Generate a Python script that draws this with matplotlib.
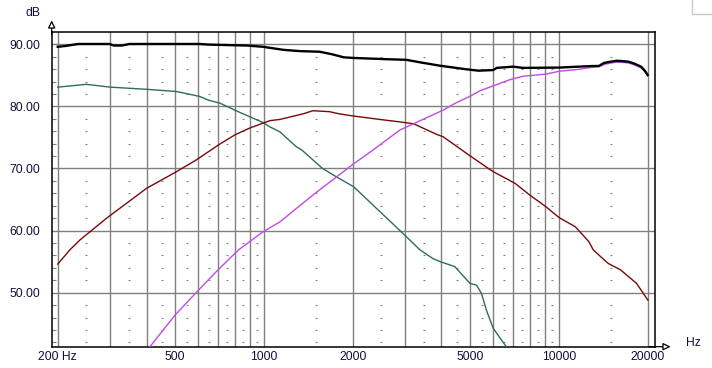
import numpy as np
import matplotlib.pyplot as plt
from matplotlib.patches import Rectangle

# readings off the measurement (Hz, dB)
sum_f = [200, 210, 235, 300, 310, 330, 350, 500, 606, 650, 874, 993, 1166, 1326, 1546,
         1700, 1866, 2009, 2605, 3038, 3381, 3955, 4812, 5336, 5985, 6160, 7000, 7551,
         10012, 12960, 13660, 14230, 15000, 15700, 16300, 17200, 18000, 19000, 19600, 20000]
sum_db = [89.6, 89.7, 90.05, 90.05, 89.8, 89.8, 90.05, 90.05, 90.05, 89.95, 89.8, 89.6, 89.1, 88.9, 88.8,
          88.4, 87.9, 87.8, 87.6, 87.5, 87.1, 86.55, 86.0, 85.75, 85.85, 86.2, 86.4, 86.2,
          86.25, 86.5, 86.5, 87.0, 87.2, 87.35, 87.3, 87.2, 86.9, 86.4, 85.7, 85.05]

woofer_f = [200, 250, 301, 400, 505, 606, 649, 711, 797, 818, 993, 1048, 1133, 1288, 1343,
            1581, 1783, 2009, 2063, 2893, 3381, 3740, 3955, 4437, 4996, 5260, 5465, 5680,
            5985, 6630, 6800]
woofer_db = [83.1, 83.55, 83.1, 82.75, 82.4, 81.6, 81.0, 80.5, 79.4, 79.15, 77.4, 76.7, 75.9, 73.5, 73.0,
             70.0, 68.5, 67.1, 66.6, 60.0, 56.9, 55.5, 55.0, 54.2, 51.5, 51.2, 49.9, 47.2,
             44.3, 41.3, 40.5]

mid_f = [200, 220, 238, 293, 400, 506, 591, 702, 797, 894, 993, 1048, 1133, 1358, 1466,
         1668, 1801, 2009, 2468, 2893, 3218, 3850, 4055, 4944, 5769, 5985, 7107, 7982,
         9038, 10012, 11380, 12650, 13080, 14230, 14716, 16160, 18340, 20040]
mid_db = [54.6, 56.9, 58.5, 62.0, 66.8, 69.5, 71.4, 73.8, 75.4, 76.5, 77.3, 77.7, 77.9, 78.8, 79.3,
          79.15, 78.8, 78.45, 77.9, 77.5, 77.2, 75.5, 75.1, 72.2, 70.0, 69.5, 67.6, 65.7,
          63.85, 62.1, 60.6, 58.2, 56.9, 55.3, 54.7, 53.7, 51.5, 48.8]

tweeter_f = [395, 411, 500, 600, 700, 821, 993, 1133, 1491, 2009, 2347, 2893, 4055, 4492, 4986,
             5396, 5985, 6826, 7551, 9038, 10012, 11700, 12960, 13660, 14370, 15530, 16300,
             17200, 18000, 19000, 19600, 20000]
tweeter_db = [40.5, 41.3, 46.4, 50.4, 53.7, 56.9, 59.8, 61.4, 66.0, 70.7, 73.0, 76.2, 79.4, 80.6, 81.6,
              82.5, 83.3, 84.3, 84.85, 85.2, 85.65, 85.97, 86.3, 86.4, 86.8, 87.1, 87.1,
              87.0, 86.7, 86.2, 85.6, 84.95]

grid_f = [200, 300, 400, 500, 600, 700, 800, 900, 1000, 2000, 3000, 4000, 5000,
          6000, 7000, 8000, 9000, 10000, 20000]
dash_f = [250, 350, 450, 550, 650, 750, 850, 950, 1500, 2500, 3500, 4500, 5500,
          6500, 7500, 8500, 9500, 15000]
grid_db = [50, 60, 70, 80, 90]
dash_db = [v for v in range(42, 92, 2) if v % 10]
xtick_f = [200, 500, 1000, 2000, 5000, 10000, 20000]
xtick_labels = ['200 Hz', '500', '1000', '2000', '5000', '10000', '20000']

plt.rcParams['font.family'] = ['Liberation Sans', 'DejaVu Sans']
label_col = '#10103c'

fig = plt.figure(figsize=(7.12, 3.68), dpi=100)
ax = fig.add_axes([0.0726, 0.0579, 0.8473, 0.856])
ax.set_xscale('log')
ax.set_xlim(190.8, 21180)
ax.set_ylim(41.3, 92.03)

for f in grid_f:
    ax.axvline(f, color='#808080', lw=1.0, zorder=1)
for v in grid_db:
    ax.axhline(v, color='#808080', lw=1.0, zorder=1)
dx, dy = np.meshgrid(dash_f, dash_db)
ax.plot(dx.ravel(), dy.ravel(), ls='none', marker='_', ms=1.6, mew=0.8,
        color='#808080', zorder=1)

ax.plot(woofer_f, woofer_db, color='#2e6e52', lw=1.0, zorder=3)
ax.plot(mid_f, mid_db, color='#7a0808', lw=1.0, zorder=3)
ax.plot(tweeter_f, tweeter_db, color='#c04ce0', lw=1.0, zorder=3)
ax.plot(sum_f, sum_db, color='black', lw=1.7, zorder=4)

ax.set_xticks(xtick_f)
ax.set_xticklabels(xtick_labels)
ax.xaxis.set_minor_locator(plt.NullLocator())
ax.set_yticks(grid_db)
ax.set_yticklabels(['%.2f' % v for v in grid_db])
ax.set_yticks(dash_db, minor=True)
ax.tick_params(axis='both', which='major', length=0, labelsize=8.7, labelcolor=label_col)
ax.tick_params(axis='x', which='major', pad=3)
ax.tick_params(axis='y', which='major', pad=8.5)
ax.tick_params(axis='y', which='minor', direction='in', length=3, width=0.8, color='#808080')

for s in ax.spines.values():
    s.set_color('black')
    s.set_linewidth(1.1)

# axis arrows
arrow = dict(arrowstyle='-|>,head_length=0.45,head_width=0.22',
             fc='white', ec='black', lw=0.9, shrinkA=0, shrinkB=0)
ax.annotate('', xy=(0, 1.036), xytext=(0, 0.99), xycoords='axes fraction', arrowprops=arrow)
ax.annotate('', xy=(1.026, 0), xytext=(0.99, 0), xycoords='axes fraction', arrowprops=arrow)

fig.text(33.5 / 712, 1 - 13 / 368, 'dB', ha='center', va='center', fontsize=8.7, color=label_col)
fig.text(693.7 / 712, 1 - 343.3 / 368, 'Hz', ha='center', va='center', fontsize=8.7, color=label_col)

fig.add_artist(Rectangle((692 / 712, 1 - 14 / 368), 0.05, 0.06, transform=fig.transFigure,
                         fill=False, ec='#c8c8c8', lw=1.0))

fig.savefig('out.png', dpi=100)
